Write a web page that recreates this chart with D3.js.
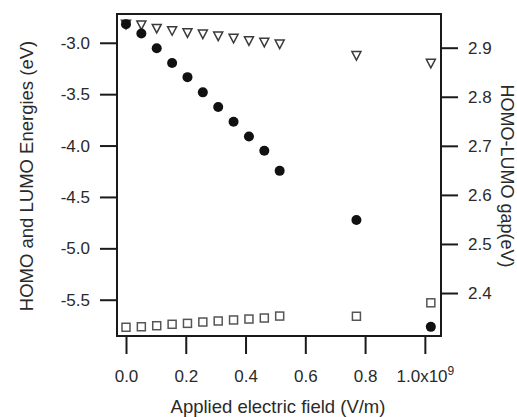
<!DOCTYPE html>
<html>
<head>
<meta charset="utf-8">
<script src="https://cdn.jsdelivr.net/npm/d3@7"></script>
<style>
    body { margin: 0; background: #fff; }
    svg { font-family: "Liberation Sans", Arial, sans-serif; }
</style>
</head>
<body>
<svg id="chart" width="517" height="417"></svg>
<script>
// data (field in units of 1e9 V/m)
const field = [0, 0.0514, 0.1028, 0.1543, 0.2057, 0.2571, 0.3085, 0.3599, 0.4114, 0.4628, 0.5142, 0.771, 1.02];
const lumo = [-2.82, -2.828, -2.860, -2.883, -2.903, -2.915, -2.935, -2.957, -2.981, -2.996, -3.013, -3.125, -3.200];
const homo = [-5.768, -5.763, -5.753, -5.739, -5.730, -5.717, -5.707, -5.697, -5.688, -5.678, -5.659, -5.661, -5.530];
const gap = [2.948, 2.929, 2.899, 2.869, 2.840, 2.809, 2.779, 2.749, 2.719, 2.690, 2.649, 2.549, 2.331];

const xTicks = [0, 0.2, 0.4, 0.6, 0.8, 1.0];
const yLeftTicks = [-5.5, -5.0, -4.5, -4.0, -3.5, -3.0];
const yRightTicks = [2.4, 2.5, 2.6, 2.7, 2.8, 2.9];

const svg = d3.select("#chart");
const plotL = 117, plotR = 441, plotT = 14, plotB = 336;

const x = d3.scaleLinear().domain([-0.0301, 1.054]).range([plotL, plotR]);
const yL = d3.scaleLinear().domain([-5.853, -2.72]).range([plotB, plotT]);
const yR = d3.scaleLinear().domain([2.3124, 2.9687]).range([plotB, plotT]);

const fmt = (d) => d.toFixed(1);
const ink = "#1a1a1a";
const textInk = "#2a2a2a";

// axes
const xAxis = svg.append("g")
    .attr("transform", `translate(0, ${plotB})`)
    .call(d3.axisBottom(x).tickValues(xTicks).tickSize(18).tickPadding(16).tickFormat(fmt));
const lAxis = svg.append("g")
    .attr("transform", `translate(${plotL}, 0)`)
    .call(d3.axisLeft(yL).tickValues(yLeftTicks).tickSize(17).tickPadding(10).tickFormat(fmt));
const rAxis = svg.append("g")
    .attr("transform", `translate(${plotR}, 0)`)
    .call(d3.axisRight(yR).tickValues(yRightTicks).tickSize(17).tickPadding(10).tickFormat(fmt));

[xAxis, lAxis, rAxis].forEach((g) => {
    g.select(".domain").remove();
    g.selectAll(".tick line").attr("stroke", ink).attr("stroke-width", 2);
    g.selectAll(".tick text").attr("fill", textInk).style("font-size", "17px");
});

// 1.0x10^9 label
xAxis.selectAll(".tick text")
    .filter((d) => d === 1.0)
    .text(null)
    .call((t) => {
        t.append("tspan").text("1.0x10");
        t.append("tspan").text("9").attr("dy", "-0.6em").style("font-size", "12px");
    });

// frame
svg.append("rect")
    .attr("x", plotL).attr("y", plotT)
    .attr("width", plotR - plotL).attr("height", plotB - plotT)
    .attr("fill", "none").attr("stroke", ink).attr("stroke-width", 2);

// LUMO: open triangles
svg.append("g").selectAll("path")
    .data(field)
    .enter()
    .append("path")
    .attr("d", "M-4.5,-4L4.5,-4L0,4.5Z")
    .attr("transform", (d, i) => `translate(${x(d)}, ${yL(lumo[i])})`)
    .attr("fill", "#fff")
    .attr("stroke", "#3a3a3a")
    .attr("stroke-width", 1.5)
    .attr("stroke-linejoin", "miter");

// HOMO: open squares
svg.append("g").selectAll("rect")
    .data(field)
    .enter()
    .append("rect")
    .attr("x", (d) => x(d) - 4)
    .attr("y", (d, i) => yL(homo[i]) - 4)
    .attr("width", 8)
    .attr("height", 8)
    .attr("fill", "#fff")
    .attr("stroke", "#555")
    .attr("stroke-width", 1.5);

// gap: filled circles
svg.append("g").selectAll("circle")
    .data(field)
    .enter()
    .append("circle")
    .attr("cx", (d) => x(d))
    .attr("cy", (d, i) => yR(gap[i]))
    .attr("r", 5)
    .attr("fill", "#111");

// axis titles
svg.append("text")
    .attr("x", 278).attr("y", 413)
    .attr("text-anchor", "middle")
    .attr("fill", textInk)
    .style("font-size", "18.5px")
    .text("Applied electric field (V/m)");

svg.append("text")
    .attr("transform", "translate(33, 176) rotate(-90)")
    .attr("text-anchor", "middle")
    .attr("fill", textInk)
    .style("font-size", "18.5px")
    .text("HOMO and LUMO Energies (eV)");

svg.append("text")
    .attr("transform", "translate(501, 176) rotate(90)")
    .attr("text-anchor", "middle")
    .attr("fill", textInk)
    .style("font-size", "18px")
    .text("HOMO-LUMO gap(eV)");
</script>
</body>
</html>
